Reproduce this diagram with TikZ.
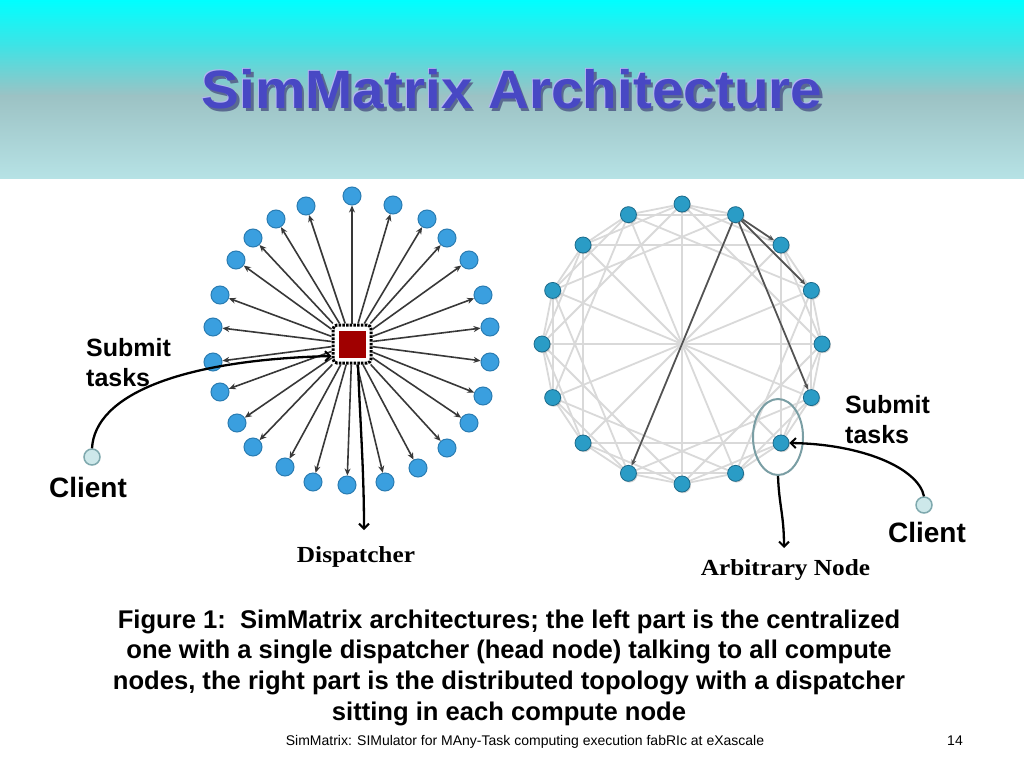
\documentclass[tikz,border=0pt]{standalone}
\usepackage{fontspec}
\setmainfont{Liberation Sans}
\newfontfamily\serifface{Liberation Serif}
\usetikzlibrary{arrows.meta,shapes.geometric,shadows}
\pgfdeclarelayer{back}
\pgfdeclarelayer{bg}
\pgfsetlayers{back,bg,main}
\definecolor{bandtop}{HTML}{00FFFF}
\definecolor{bandA}{HTML}{3FE3E5}
\definecolor{bandB}{HTML}{9CC2C4}
\definecolor{bandC}{HTML}{B6E2E5}
\definecolor{titlecol}{HTML}{4848C4}
\definecolor{titlehl}{HTML}{B4B4F4}
\definecolor{titlesh}{HTML}{5A6A90}
\definecolor{lfill}{HTML}{3A9FDF}
\definecolor{ldraw}{HTML}{2A7CB2}
\definecolor{rfill}{HTML}{2A9CC6}
\definecolor{rdraw}{HTML}{1B6A8A}
\definecolor{dispred}{HTML}{A00000}
\definecolor{clfill}{HTML}{CDE8EA}
\definecolor{cldraw}{HTML}{7FA9AE}
\definecolor{ellcol}{HTML}{7A9EA4}
\definecolor{chordcol}{HTML}{D9D9D9}
\newcommand{\ttlword}{SimMatrix Architecture}
\newcommand{\ttlbevel}{%
  \rlap{\hspace{2.5pt}\raisebox{-2.5pt}{\color{titlesh}\ttlword}}%
  \rlap{\hspace{-1pt}\raisebox{1pt}{\color{titlehl}\ttlword}}%
  {\color{titlecol}\ttlword}}
\begin{document}
\begin{tikzpicture}[x=1pt,y=-1pt,
  lnode/.style={circle,fill=lfill,draw=ldraw,line width=1pt,minimum size=18pt,inner sep=0pt},
  rnode/.style={circle,fill=rfill,draw=rdraw,line width=0.8pt,minimum size=16pt,inner sep=0pt,
     drop shadow={shadow xshift=1pt,shadow yshift=-1.2pt,opacity=0.35}},
  client/.style={circle,fill=clfill,draw=cldraw,line width=1.5pt,minimum size=16pt,inner sep=0pt},
  star/.style={draw=black!78,line width=1.6pt,-{Stealth[length=7pt,width=6pt]}},
  chord/.style={draw=chordcol,line width=1.8pt},
  finger/.style={draw=black!68,line width=1.7pt,-{Stealth[length=6pt,width=5pt]}},
  conn/.style={draw=black,line width=2.3pt,-{Straight Barb[length=5pt,width=10pt,line width=2pt]}},
  lab/.style={font=\bfseries,inner sep=0pt,anchor=base},
  serlab/.style={font=\serifface\bfseries,inner sep=0pt,anchor=base},
  titlefont/.style={inner sep=0pt,font=\fontsize{54}{62}\selectfont\bfseries},
]
\useasboundingbox (0,0) rectangle (1024,768);
\begin{pgfonlayer}{back}
\fill[white] (0,0) rectangle (1024,768);
\shade[top color=bandtop,bottom color=bandA] (0,0) rectangle (1024,46);
\shade[top color=bandA,bottom color=bandB] (0,45.5) rectangle (1024,96);
\shade[top color=bandB,bottom color=bandC] (0,95.5) rectangle (1024,178);
\end{pgfonlayer}
% title
\node[titlefont] (title) at (512,90) {\scalebox{1.05}[1]{\ttlbevel}};

% ---------- left: centralized ----------
\foreach \x/\y [count=\k] in {352/196,393/205,427/219,447/238,469/260,483/295,490/327,490/362,483/396,469/423,447/448,418/468,385/482,347/485,313/482,285/467,253/447,237/423,220/392,213/362,213/327,220/295,236/260,253/238,276/219,306/206}
  {\node[lnode] (l\k) at (\x,\y) {};}
\node[draw=black,fill=white,line width=3pt,rounded corners=4pt,minimum size=38pt,inner sep=0pt,dash pattern=on 2.5pt off 1.2pt] (disp) at (352,344) {};
\foreach \k in {1,...,26} {\draw[star] (disp) -- (l\k);}
\node[fill=dispred,draw=white,line width=1pt,minimum size=28pt,inner sep=0pt] (core) at (352,344) {};

\node[client] (cl1) at (92,457) {};
\draw[conn] (cl1.north) .. controls (95,395) and (180,360) .. ([yshift=-12pt]disp.west);
\coordinate (dispend) at (364,530);
\draw[conn] ([xshift=6pt]disp.south) .. controls (360,420) and (364,470) .. (dispend);

\node[lab,align=left,anchor=north west,font=\bfseries\fontsize{25}{30}\selectfont] (sub1) at (86,338) {Submit\\tasks};
\node[lab,font=\bfseries\fontsize{28}{32}\selectfont] (clt1) at (88,497) {Client};
\node[serlab] (displab) at (356,562) {\scalebox{1.1}[1]{\fontsize{23}{27}\selectfont Dispatcher}};

% ---------- right: distributed ----------
\foreach \i in {0,...,15}
  {\node[rnode] (r\i) at ({682+140*cos(90-22.5*\i)},{344-140*sin(90-22.5*\i)}) {};}
\begin{pgfonlayer}{bg}
\foreach \i in {0,...,15} {
  \foreach \d in {1,2,4} {
    \pgfmathtruncatemacro\j{mod(\i+\d,16)}
    \draw[chord] (r\i) -- (r\j);
  }
}
\foreach \i in {0,...,7} {
  \pgfmathtruncatemacro\j{\i+8}
  \draw[chord] (r\i) -- (r\j);
}
\end{pgfonlayer}
\draw[finger] (r1) -- (r2);
\draw[finger] (r1) -- (r3);
\draw[finger] (r1) -- (r5);
\draw[finger] (r1) -- (r9);

\node[ellipse,draw=ellcol,line width=2pt,minimum width=50pt,minimum height=76pt] (sel) at (778,437) {};
\node[client] (cl2) at (924,505) {};
\draw[conn] (cl2.north) .. controls (918,468) and (862,444) .. (r6.east);
\coordinate (arbend) at (784,548);
\draw[conn] (sel.south) .. controls (779,505) and (784,515) .. (arbend);

\node[lab,align=left,anchor=north west,font=\bfseries\fontsize{25}{30}\selectfont] (sub2) at (845,395) {Submit\\tasks};
\node[lab,font=\bfseries\fontsize{28}{32}\selectfont] (clt2) at (927,542) {Client};
\node[serlab] (arblab) at (785.5,575) {\scalebox{1.1}[1]{\fontsize{23}{27}\selectfont Arbitrary Node}};

% ---------- caption ----------
\node[lab,font=\bfseries\fontsize{25.6}{30}\selectfont] (cap1) at (509,628) {Figure 1:\ \ SimMatrix architectures; the left part is the centralized};
\node[lab,font=\bfseries\fontsize{25.6}{30}\selectfont] (cap2) at (509,658) {one with a single dispatcher (head node) talking to all compute};
\node[lab,font=\bfseries\fontsize{25.6}{30}\selectfont] (cap3) at (509,689) {nodes, the right part is the distributed topology with a dispatcher};
\node[lab,font=\bfseries\fontsize{25.6}{30}\selectfont] (cap4) at (509,720) {sitting in each compute node};

% ---------- footer ----------
\node[inner sep=0pt,anchor=base,font=\fontsize{14}{16}\selectfont] (foot) at (525,745) {SimMatrix: SIMulator for MAny-Task computing execution fabRIc at eXascale};
\node[inner sep=0pt,anchor=base,font=\fontsize{14}{16}\selectfont] (pnum) at (955,745) {14};
\end{tikzpicture}
\end{document}
